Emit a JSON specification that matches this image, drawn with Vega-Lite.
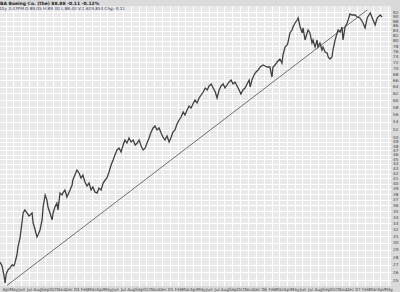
{
  "$schema": "https://vega.github.io/schema/vega-lite/v6.json",
  "width": 391,
  "height": 280,
  "autosize": {"type": "none"},
  "padding": {"left": 0, "top": 6, "right": 9, "bottom": 6},
  "background": "#dadada",
  "config": {"view": {"fill": "#e9e9e9", "stroke": null}},
  "title": {
    "text": "BA Boeing Co. (the)  88.88  -0.11  -0.12%",
    "subtitle": "Dly 3:47PM  O:89.05 H:89.30 L:88.40 V:2,619,853 Chg:-0.11",
    "anchor": "start",
    "frame": "group",
    "font": "DejaVu Sans",
    "fontSize": 4.5,
    "fontWeight": "bold",
    "color": "#222222",
    "subtitleFont": "DejaVu Sans",
    "subtitleFontSize": 4.2,
    "subtitleColor": "#2a3550",
    "subtitlePadding": 1,
    "offset": -5
  },
  "datasets": {
    "price": [
      {"d": "2003-03-10", "c": 27.34}, {"d": "2003-03-18", "c": 26.82}, {"d": "2003-03-26", "c": 25.53}, {"d": "2003-03-30", "c": 24.69},
      {"d": "2003-04-03", "c": 25.78}, {"d": "2003-04-10", "c": 26.30}, {"d": "2003-04-18", "c": 26.56}, {"d": "2003-04-26", "c": 26.95},
      {"d": "2003-05-03", "c": 26.82}, {"d": "2003-05-07", "c": 27.21}, {"d": "2003-05-15", "c": 28.28}, {"d": "2003-05-19", "c": 29.40},
      {"d": "2003-05-27", "c": 30.71}, {"d": "2003-06-04", "c": 33.20}, {"d": "2003-06-08", "c": 34.68}, {"d": "2003-06-15", "c": 35.19},
      {"d": "2003-06-23", "c": 34.68}, {"d": "2003-07-01", "c": 34.18}, {"d": "2003-07-05", "c": 34.35}, {"d": "2003-07-13", "c": 34.68},
      {"d": "2003-07-17", "c": 33.04}, {"d": "2003-07-25", "c": 31.93}, {"d": "2003-08-01", "c": 30.86}, {"d": "2003-08-05", "c": 31.16},
      {"d": "2003-08-13", "c": 31.93}, {"d": "2003-08-21", "c": 33.53}, {"d": "2003-08-25", "c": 35.70}, {"d": "2003-09-02", "c": 37.85},
      {"d": "2003-09-09", "c": 36.93}, {"d": "2003-09-13", "c": 35.70}, {"d": "2003-09-21", "c": 34.68}, {"d": "2003-09-29", "c": 33.53},
      {"d": "2003-10-03", "c": 34.68}, {"d": "2003-10-10", "c": 35.70}, {"d": "2003-10-18", "c": 36.40}, {"d": "2003-10-22", "c": 35.19},
      {"d": "2003-10-30", "c": 38.21}, {"d": "2003-11-07", "c": 37.85}, {"d": "2003-11-10", "c": 38.21}, {"d": "2003-11-18", "c": 38.78},
      {"d": "2003-11-26", "c": 37.48}, {"d": "2003-12-08", "c": 38.78}, {"d": "2003-12-16", "c": 39.73}, {"d": "2003-12-19", "c": 40.70},
      {"d": "2003-12-27", "c": 41.70}, {"d": "2004-01-04", "c": 42.72}, {"d": "2004-01-12", "c": 42.11}, {"d": "2004-01-20", "c": 41.10},
      {"d": "2004-01-27", "c": 41.70}, {"d": "2004-02-04", "c": 40.31}, {"d": "2004-02-12", "c": 39.53}, {"d": "2004-02-20", "c": 40.11},
      {"d": "2004-02-28", "c": 38.78}, {"d": "2004-03-06", "c": 39.34}, {"d": "2004-03-14", "c": 38.40}, {"d": "2004-03-22", "c": 38.21},
      {"d": "2004-03-30", "c": 39.15}, {"d": "2004-04-07", "c": 38.78}, {"d": "2004-04-15", "c": 40.11}, {"d": "2004-04-23", "c": 40.70},
      {"d": "2004-04-30", "c": 41.10}, {"d": "2004-05-08", "c": 42.31}, {"d": "2004-05-16", "c": 43.78}, {"d": "2004-05-24", "c": 44.86},
      {"d": "2004-05-31", "c": 45.96}, {"d": "2004-06-08", "c": 47.09}, {"d": "2004-06-16", "c": 47.55}, {"d": "2004-06-24", "c": 46.63},
      {"d": "2004-07-02", "c": 48.24}, {"d": "2004-07-09", "c": 49.42}, {"d": "2004-07-17", "c": 48.71}, {"d": "2004-07-25", "c": 49.91},
      {"d": "2004-08-02", "c": 48.95}, {"d": "2004-08-10", "c": 49.42}, {"d": "2004-08-18", "c": 48.24}, {"d": "2004-08-26", "c": 48.71},
      {"d": "2004-09-02", "c": 49.42}, {"d": "2004-09-10", "c": 48.01}, {"d": "2004-09-18", "c": 47.09}, {"d": "2004-09-26", "c": 47.55},
      {"d": "2004-10-03", "c": 48.71}, {"d": "2004-10-11", "c": 49.91}, {"d": "2004-10-19", "c": 51.38}, {"d": "2004-10-27", "c": 52.39},
      {"d": "2004-11-03", "c": 52.90}, {"d": "2004-11-11", "c": 51.88}, {"d": "2004-11-19", "c": 52.39}, {"d": "2004-11-27", "c": 51.13},
      {"d": "2004-12-04", "c": 50.15}, {"d": "2004-12-12", "c": 49.42}, {"d": "2004-12-20", "c": 50.39}, {"d": "2004-12-28", "c": 48.95},
      {"d": "2005-01-04", "c": 49.91}, {"d": "2005-01-12", "c": 51.38}, {"d": "2005-01-20", "c": 51.88}, {"d": "2005-01-28", "c": 53.42},
      {"d": "2005-02-05", "c": 54.47}, {"d": "2005-02-13", "c": 55.26}, {"d": "2005-02-21", "c": 56.62}, {"d": "2005-02-28", "c": 55.80},
      {"d": "2005-03-08", "c": 57.18}, {"d": "2005-03-16", "c": 58.30}, {"d": "2005-03-24", "c": 57.73}, {"d": "2005-03-31", "c": 58.87},
      {"d": "2005-04-08", "c": 60.02}, {"d": "2005-04-16", "c": 59.15}, {"d": "2005-04-24", "c": 60.60}, {"d": "2005-05-02", "c": 61.49},
      {"d": "2005-05-10", "c": 62.39}, {"d": "2005-05-18", "c": 63.62}, {"d": "2005-05-26", "c": 63.01}, {"d": "2005-06-02", "c": 64.24},
      {"d": "2005-06-10", "c": 64.87}, {"d": "2005-06-18", "c": 63.62}, {"d": "2005-06-26", "c": 62.39}, {"d": "2005-07-03", "c": 60.60},
      {"d": "2005-07-11", "c": 63.01}, {"d": "2005-07-19", "c": 64.24}, {"d": "2005-07-27", "c": 64.87}, {"d": "2005-08-03", "c": 63.62},
      {"d": "2005-08-11", "c": 64.55}, {"d": "2005-08-19", "c": 65.50}, {"d": "2005-08-27", "c": 66.13}, {"d": "2005-09-03", "c": 64.87},
      {"d": "2005-09-11", "c": 65.50}, {"d": "2005-09-19", "c": 64.24}, {"d": "2005-09-27", "c": 63.01}, {"d": "2005-10-04", "c": 61.79},
      {"d": "2005-10-12", "c": 63.01}, {"d": "2005-10-20", "c": 63.62}, {"d": "2005-10-28", "c": 64.87}, {"d": "2005-11-05", "c": 66.13},
      {"d": "2005-11-09", "c": 63.93}, {"d": "2005-11-16", "c": 66.13}, {"d": "2005-11-24", "c": 67.76}, {"d": "2005-12-02", "c": 68.75},
      {"d": "2005-12-10", "c": 69.42}, {"d": "2005-12-18", "c": 70.44}, {"d": "2005-12-30", "c": 71.13}, {"d": "2006-01-06", "c": 70.78},
      {"d": "2006-01-14", "c": 70.44}, {"d": "2006-01-25", "c": 70.44}, {"d": "2006-02-02", "c": 67.10}, {"d": "2006-02-06", "c": 70.44},
      {"d": "2006-02-14", "c": 71.13}, {"d": "2006-02-22", "c": 72.17}, {"d": "2006-03-05", "c": 73.23}, {"d": "2006-03-13", "c": 71.82},
      {"d": "2006-03-17", "c": 74.67}, {"d": "2006-03-25", "c": 77.62}, {"d": "2006-04-02", "c": 78.38}, {"d": "2006-04-05", "c": 79.15},
      {"d": "2006-04-13", "c": 83.09}, {"d": "2006-04-21", "c": 84.30}, {"d": "2006-04-25", "c": 85.55}, {"d": "2006-05-03", "c": 87.22},
      {"d": "2006-05-11", "c": 88.50}, {"d": "2006-05-15", "c": 89.36}, {"d": "2006-05-23", "c": 85.55}, {"d": "2006-05-31", "c": 83.09},
      {"d": "2006-06-03", "c": 85.14}, {"d": "2006-06-11", "c": 80.31}, {"d": "2006-06-19", "c": 83.09}, {"d": "2006-06-23", "c": 84.30},
      {"d": "2006-06-30", "c": 83.09}, {"d": "2006-07-08", "c": 79.15}, {"d": "2006-07-12", "c": 80.31}, {"d": "2006-07-20", "c": 77.62},
      {"d": "2006-07-28", "c": 80.31}, {"d": "2006-07-31", "c": 77.62}, {"d": "2006-08-08", "c": 79.15}, {"d": "2006-08-16", "c": 76.50},
      {"d": "2006-08-20", "c": 77.62}, {"d": "2006-08-28", "c": 75.76}, {"d": "2006-09-05", "c": 75.39}, {"d": "2006-09-09", "c": 73.94},
      {"d": "2006-09-16", "c": 73.23}, {"d": "2006-09-24", "c": 73.94}, {"d": "2006-09-28", "c": 76.50}, {"d": "2006-10-06", "c": 80.31},
      {"d": "2006-10-14", "c": 83.09}, {"d": "2006-10-18", "c": 84.30}, {"d": "2006-10-26", "c": 83.49}, {"d": "2006-11-02", "c": 85.55},
      {"d": "2006-11-06", "c": 80.31}, {"d": "2006-11-14", "c": 85.55}, {"d": "2006-11-22", "c": 87.22}, {"d": "2006-11-26", "c": 88.50},
      {"d": "2006-12-03", "c": 91.11}, {"d": "2006-12-11", "c": 90.67}, {"d": "2006-12-15", "c": 90.67}, {"d": "2006-12-23", "c": 90.67},
      {"d": "2006-12-31", "c": 89.79}, {"d": "2007-01-11", "c": 89.36}, {"d": "2007-01-23", "c": 87.22}, {"d": "2007-01-31", "c": 85.14},
      {"d": "2007-02-08", "c": 89.36}, {"d": "2007-02-20", "c": 91.55}, {"d": "2007-03-03", "c": 88.50}, {"d": "2007-03-11", "c": 86.38},
      {"d": "2007-03-19", "c": 89.36}, {"d": "2007-03-31", "c": 90.67}, {"d": "2007-04-07", "c": 89.79}
    ],
    "trend": [
      {"d": "2003-04-06", "c": 24.39},
      {"d": "2007-02-08", "c": 92.90}
    ]
  },
  "layer": [
    {
      "mark": {"type": "rule", "color": "#9fd0cc", "strokeWidth": 1},
      "encoding": {
        "x": {"datum": {"year": 2005, "month": 7, "date": 19}, "type": "temporal"}
      }
    },
    {
      "data": {"name": "trend"},
      "mark": {"type": "line", "color": "#3a3a3a", "strokeWidth": 0.7},
      "encoding": {
        "x": {"field": "d", "type": "temporal"},
        "y": {"field": "c", "type": "quantitative"}
      }
    },
    {
      "data": {"name": "price"},
      "mark": {"type": "line", "color": "#404040", "strokeWidth": 1.3, "strokeJoin": "miter", "clip": true},
      "encoding": {
        "x": {
          "field": "d",
          "type": "temporal",
          "scale": {"domain": [{"year": 2003, "month": 3, "date": 10}, {"year": 2007, "month": 5, "date": 12}]},
          "axis": {
            "orient": "bottom",
            "title": null,
            "tickCount": {"interval": "month", "step": 1},
            "labelExpr": "month(datum.value) == 0 ? timeFormat(datum.value, '%y') : timeFormat(datum.value, '%b')",
            "labelFont": "DejaVu Sans",
            "labelFontSize": 4.3,
            "labelColor": "#444444",
            "labelPadding": 1,
            "labelOverlap": false,
            "labelFlush": false,
            "labelBound": false,
            "ticks": false,
            "domain": false,
            "grid": true,
            "gridColor": "#ffffff",
            "gridWidth": 1,
            "gridOpacity": 1
          }
        },
        "y": {
          "field": "c",
          "type": "quantitative",
          "scale": {"type": "log", "domain": [24.33, 94.72], "nice": false, "zero": false},
          "axis": {
            "orient": "right",
            "title": null,
            "values": [25,26,27,28,29,30,31,32,33,34,35,36,37,38,39,40,41,42,43,44,45,46,47,48,49,50,52,54,56,58,60,62,64,66,68,70,72,74,76,78,80,82,84,86,88,90,92],
            "format": "d",
            "labelFont": "DejaVu Sans",
            "labelFontSize": 4.2,
            "labelColor": "#444444",
            "labelPadding": 1.5,
            "labelOverlap": false,
            "labelFlush": false,
            "labelBound": false,
            "ticks": false,
            "domain": false,
            "grid": true,
            "gridColor": "#ffffff",
            "gridWidth": 1,
            "gridOpacity": 1
          }
        }
      }
    }
  ]
}
